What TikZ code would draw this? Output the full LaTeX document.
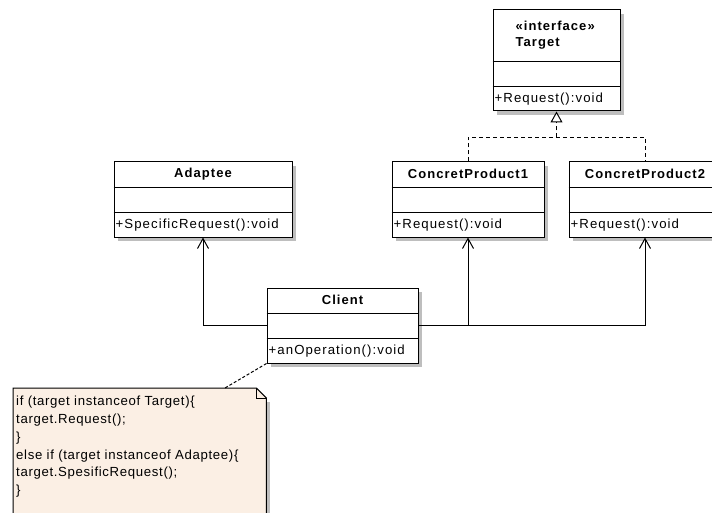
\documentclass[tikz,border=0pt]{standalone}
\usepackage{fontspec}
\setmainfont{Liberation Sans}
\newfontfamily\classfont{Liberation Sans}[LetterSpace=8]
\newfontfamily\notefont{Liberation Sans}[LetterSpace=5]
\usetikzlibrary{arrows.meta,calc,shadows}

\definecolor{shadowgray}{RGB}{190,190,190}
\definecolor{notefill}{RGB}{251,239,228}

\tikzset{
  classbox/.style={draw=black, fill=white, line width=1pt, inner sep=0pt,
    drop shadow={shadow xshift=4pt, shadow yshift=-4pt, fill=shadowgray, opacity=1}},
  classline/.style={draw=black, line width=1pt},
  headtext/.style={inner sep=0pt, font=\classfont\bfseries\fontsize{13}{15}\selectfont},
  optext/.style={inner sep=0pt, font=\classfont\fontsize{13.2}{15}\selectfont},
  assoc/.style={draw=black, line width=1pt, -{Straight Barb[length=10pt,width=11pt,line width=1pt]}},
  realdash/.style={draw=black, line width=1pt, dash pattern=on 4pt off 3pt},
  realtip/.style={-{Triangle[open,length=11pt,width=12pt,line width=1pt,fill=white]}},
  notelink/.style={draw=black, line width=1pt, dash pattern=on 3pt off 2pt},
  notetext/.style={inner sep=0pt, align=left, font=\notefont\fontsize{13.2}{17.8}\selectfont},
}

% UML class: id, centre x, centre y, width, height, operation text
\newcommand\umlclass[6]{%
  \node[classbox, minimum width=#4pt, minimum height=#5pt] (#1) at (#2,#3) {};
  \draw[classline] ($(#1.south west)+(0,-50)$) -- ($(#1.south east)+(0,-50)$);
  \draw[classline] ($(#1.south west)+(0,-25)$) -- ($(#1.south east)+(0,-25)$);
  \node[optext, anchor=west] (#1-op) at ($(#1.south west)+(2,-12.5)$) {#6};
}

\begin{document}
\begin{tikzpicture}[x=1pt,y=-1pt]
\useasboundingbox (0,0) rectangle (712,513);
\fill[white] (0,0) rectangle (712,513);

% classes
\umlclass{target}{556.5}{60.5}{127}{101}{+Request():void}
\node[headtext, anchor=west] (target-stereo) at ($(target.north west)+(23,16.7)$) {«interface»};
\node[headtext, anchor=west] (target-name) at ($(target.north west)+(23,34.3)$) {Target};

\umlclass{adaptee}{203}{199.5}{178}{75}{+SpecificRequest():void}
\node[headtext] (adaptee-name) at ($(adaptee.north)+(0,12.5)$) {Adaptee};

\umlclass{cp1}{468}{199.5}{152}{75}{+Request():void}
\node[headtext] (cp1-name) at ($(cp1.north)+(0,12.5)$) {ConcretProduct1};

\umlclass{cp2}{645}{199.5}{152}{75}{+Request():void}
\node[headtext] (cp2-name) at ($(cp2.north)+(0,12.5)$) {ConcretProduct2};

\umlclass{client}{342.5}{325.5}{151}{75}{+anOperation():void}
\node[headtext] (client-name) at ($(client.north)+(0,12.5)$) {Client};

% associations from the client
\draw[assoc] (client.west) -| (adaptee.south);
\draw[assoc] (client.east) -| (cp1.south);
\draw[assoc] (client.east) -| (cp2.south);

% realization of the interface
\coordinate (rj) at ($(target.south)+(0,26)$);
\draw[realdash] (cp1.north) |- (rj) -| (cp2.north);
\draw[realdash, realtip] (rj) -- (target.south);

% note
\node[inner sep=0pt, minimum width=253pt, minimum height=160pt, anchor=north west] (note) at (13,388) {};
\fill[shadowgray] ($(note.north east)+(0,14)$) rectangle ($(note.south east)+(4,0)$);
\draw[line width=1pt, fill=notefill] (note.north west) -- ($(note.north east)+(-10,0)$)
  -- ($(note.north east)+(0,10)$) -- (note.south east) -- (note.south west) -- cycle;
\draw[line width=1pt] ($(note.north east)+(-10,0)$) -- ($(note.north east)+(-10,10)$) -- ($(note.north east)+(0,10)$);
\node[notetext, anchor=north west] (note-text) at ($(note.north west)+(3,8)$)
  {if (target instanceof Target)\{\\
   target.Request();\\
   \}\\
   else if (target instanceof Adaptee)\{\\
   target.SpesificRequest();\\
   \}};

\coordinate (note-pin) at ($(note.north west)+(212,0)$);
\draw[notelink] (client.south west) -- (note-pin);
\end{tikzpicture}
\end{document}
